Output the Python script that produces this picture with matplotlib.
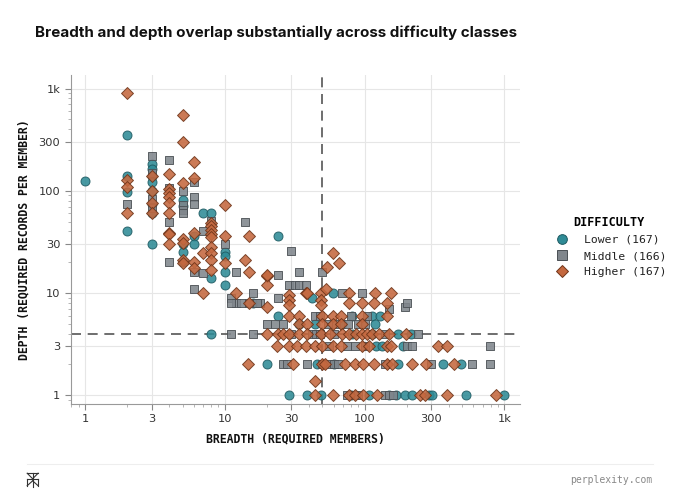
import matplotlib
matplotlib.use("Agg")
import matplotlib.pyplot as plt
from matplotlib.lines import Line2D
import numpy as np

# (breadth, depth) pairs, one list per difficulty class
lowerBreadth = [1, 2, 2, 2, 2, 3, 3, 3, 3, 3, 3, 3, 3, 5, 5, 5, 5, 5, 6, 6, 7, 8, 8,
                10, 10, 10, 10, 16, 24, 42, 59, 24, 82, 113, 130, 34, 44, 69, 118,
                8, 82, 114, 175, 216, 120, 134, 187, 20, 46, 175, 366, 494, 60,
                29, 39, 49, 108, 169, 195, 220, 290, 305, 535, 1000, 150, 80]
lowerDepth = [125, 350, 140, 98, 40, 183, 163, 139, 122, 100, 75, 60, 30, 81, 71, 25, 20, 30, 36, 30, 60, 60, 14,
              25, 23, 16, 12, 8, 36, 9, 10, 6, 6, 6, 6, 5, 5, 5, 5,
              4, 4, 4, 4, 4, 3, 3, 3, 2, 2, 2, 2, 2, 2,
              1, 1, 1, 1, 1, 1, 1, 1, 1, 1, 1, 1, 1]

middleBreadth = [2, 3, 3, 3, 3, 4, 4, 4, 4, 5, 5, 5, 5, 6, 6, 6, 6, 6, 7, 7, 8,
                 10, 11, 12, 12, 14, 16, 18, 24, 24, 30, 29, 32, 34, 38, 34, 50,
                 11, 16, 30, 42, 45, 48, 20, 23, 26, 55, 62, 90, 100, 76,
                 44, 48, 80, 105, 150, 26, 28, 39, 50, 55, 60, 65, 300, 590, 790, 140,
                 200, 220, 790, 56, 75, 85, 100, 242, 140, 60, 69, 96, 195, 200,
                 75, 80, 85, 90, 140, 150, 160, 11, 13, 15, 17]
middleDepth = [75, 220, 150, 83, 68, 200, 107, 49, 20, 100, 72, 65, 60, 122, 86, 75, 16, 11, 40, 15.5, 51,
               30, 9, 16, 8, 50, 10, 8, 15, 9, 26, 12, 12, 12, 12, 16, 16,
               4, 4, 4, 4, 4, 4, 5, 5, 5, 5, 5, 5, 5, 5,
               6, 6, 6, 6, 7, 2, 2, 2, 2, 2, 2, 2, 2, 2, 2, 2,
               3, 3, 3, 3, 3, 3, 3, 4, 4, 4, 10, 10, 7.3, 8,
               1, 1, 1, 1, 1, 1, 1, 8, 8, 8, 8]

higherBreadth = [2, 2, 2, 2, 3, 3, 3, 3, 4, 4, 4, 4, 4, 4, 4, 4, 4,
                 5, 5, 5, 5, 5, 5, 5, 6, 6, 6, 6, 6, 7, 7,
                 8, 8, 8, 8, 8, 8, 8, 8, 8, 10, 10, 10,
                 12, 14, 15, 15, 15, 20, 20, 20, 20, 59, 54, 66,
                 29, 29, 29, 38, 49, 49, 49, 53,
                 78, 118, 155, 39, 78, 96, 116, 146,
                 29, 34, 50, 59, 68, 96, 146, 34, 39, 50, 59, 68, 96,
                 20, 24, 26, 29, 34, 39, 49, 57, 69, 78, 87, 96, 105, 114, 127, 149, 199,
                 23.5, 29, 33, 38, 44, 50, 59, 68, 96, 108, 146, 155, 338, 391,
                 14.6, 30.6, 50, 73, 85, 98, 116, 146, 158, 220, 275, 438, 52,
                 44, 44, 59, 78, 85, 98, 122, 250, 270, 390, 870]
higherDepth = [900, 128, 109, 60, 139, 100, 76, 60, 146, 105, 96, 86, 76, 60, 39, 38, 30,
               550, 300, 120, 34, 31, 21, 19.6, 190, 133, 39, 20, 17.5, 24.5, 10,
               48, 45, 41, 38, 35, 28, 24.5, 21, 16.7, 73, 36, 19.5,
               10, 21, 36, 16, 8, 14.6, 12, 7.3, 15, 24.5, 18, 19.5,
               9.6, 8.5, 7.6, 10, 10, 8.5, 7.6, 11,
               10, 10, 10, 10, 8, 8, 8, 8,
               6, 6, 6, 6, 6, 6, 6, 5, 5, 5, 5, 5, 5,
               4, 4, 4, 4, 4, 4, 4, 4, 4, 4, 4, 4, 4, 4, 4, 4, 4,
               3, 3, 3, 3, 3, 3, 3, 3, 3, 3, 3, 3, 3, 3,
               2, 2, 2, 2, 2, 2, 2, 2, 2, 2, 2, 2, 2,
               1.37, 1, 1, 1, 1, 1, 1, 1, 1, 1, 1]

classLabels = ["Lower (167)", "Middle (166)", "Higher (167)"]
breadthCut = 50
depthCut = 4

xTicks = [1, 3, 10, 30, 100, 300, 1000]
xTickLabels = ["1", "3", "10", "30", "100", "300", "1k"]
yTicks = [1, 3, 10, 30, 100, 300, 1000]
yTickLabels = ["1", "3", "10", "30", "100", "300", "1k"]

styles = [
    dict(marker="o", color="#2f8b96", edge="#1d5a61", s=42),
    dict(marker="s", color="#80868c", edge="#4a4f54", s=37),
    dict(marker="D", color="#c4683f", edge="#6e3419", s=37),
]

mono = ["DejaVu Sans Mono"]

fig = plt.figure(figsize=(6.8, 4.95), dpi=100)
ax = fig.add_axes([0.104, 0.184, 0.661, 0.664])

groups = [(lowerBreadth, lowerDepth), (middleBreadth, middleDepth), (higherBreadth, higherDepth)]
for (bx, dy), st in zip(groups, styles):
    ax.scatter(bx, dy, marker=st["marker"], s=st["s"], c=st["color"],
               edgecolors=st["edge"], linewidths=0.7, alpha=0.88, zorder=3)

ax.axvline(breadthCut, color="#555555", lw=1.2, ls=(0, (6, 4)), zorder=2)
ax.axhline(depthCut, color="#555555", lw=1.2, ls=(0, (6, 4)), zorder=2)

ax.set_xscale("log")
ax.set_yscale("log")
ax.set_xlim(0.79, 1300)
ax.set_ylim(0.82, 1350)
ax.set_xticks(xTicks, xTickLabels)
ax.set_yticks(yTicks, yTickLabels)
ax.grid(True, which="major", color="#e6e6e6", lw=0.8, zorder=0)
ax.tick_params(which="major", length=4, color="#888888", labelsize=8.2, labelcolor="#333333")
ax.tick_params(which="minor", length=2.5, color="#aaaaaa")
ax.yaxis.set_minor_formatter(matplotlib.ticker.NullFormatter())
ax.xaxis.set_minor_formatter(matplotlib.ticker.NullFormatter())
for side in ["top", "right"]:
    ax.spines[side].set_visible(False)
for side in ["left", "bottom"]:
    ax.spines[side].set_color("#999999")

ax.set_xlabel("BREADTH (REQUIRED MEMBERS)", family=mono, weight="bold", fontsize=8.3, color="#111111", labelpad=6)
ax.set_ylabel("DEPTH (REQUIRED RECORDS PER MEMBER)", family=mono, weight="bold", fontsize=8.3, color="#111111", labelpad=6)

handles = [Line2D([], [], ls="", marker=st["marker"], markersize=7 if st["marker"] != "D" else 6.3,
                  markerfacecolor=st["color"], markeredgecolor=st["edge"], markeredgewidth=0.7)
           for st in styles]
leg = fig.legend(handles, classLabels, title="DIFFICULTY", loc="upper left",
                 bbox_to_anchor=(0.795, 0.585), frameon=False,
                 prop=dict(family=mono, size=8.2), handletextpad=0.9, labelspacing=0.55)
leg.get_title().set_fontfamily(mono)
leg.get_title().set_fontweight("bold")
leg.get_title().set_fontsize(8.5)
for t in leg.get_texts():
    t.set_color("#222222")

fig.text(0.051, 0.933, "Breadth and depth overlap substantially across difficulty classes",
         family=["Inter", "DejaVu Sans"], weight="bold", fontsize=10.9, color="#111111", va="center")

# footer rule, brand mark and site name
fig.add_artist(Line2D([0.04, 0.96], [0.062, 0.062], color="#eeeeee", lw=0.8))
fig.text(0.96, 0.03, "perplexity.com", family=mono, fontsize=7, color="#888888", ha="right", va="center")
cx, cy, w, h = 0.048, 0.03, 0.008, 0.014
logo = [([cx, cx], [cy - h, cy + h]),
        ([cx - w, cx + w], [cy + h, cy + h]),
        ([cx - w, cx + w], [cy + h * 0.2, cy + h * 0.2]),
        ([cx - w, cx - w], [cy - h * 0.8, cy + h * 0.2]),
        ([cx + w, cx + w], [cy - h * 0.8, cy + h * 0.2]),
        ([cx - w, cx], [cy + h, cy + h * 0.2]),
        ([cx + w, cx], [cy + h, cy + h * 0.2]),
        ([cx - w, cx], [cy - h * 0.8, cy - h * 0.1]),
        ([cx + w, cx], [cy - h * 0.8, cy - h * 0.1])]
for lx, ly in logo:
    fig.add_artist(Line2D(lx, ly, color="#333333", lw=0.8))

fig.savefig("out.png", dpi=100)
